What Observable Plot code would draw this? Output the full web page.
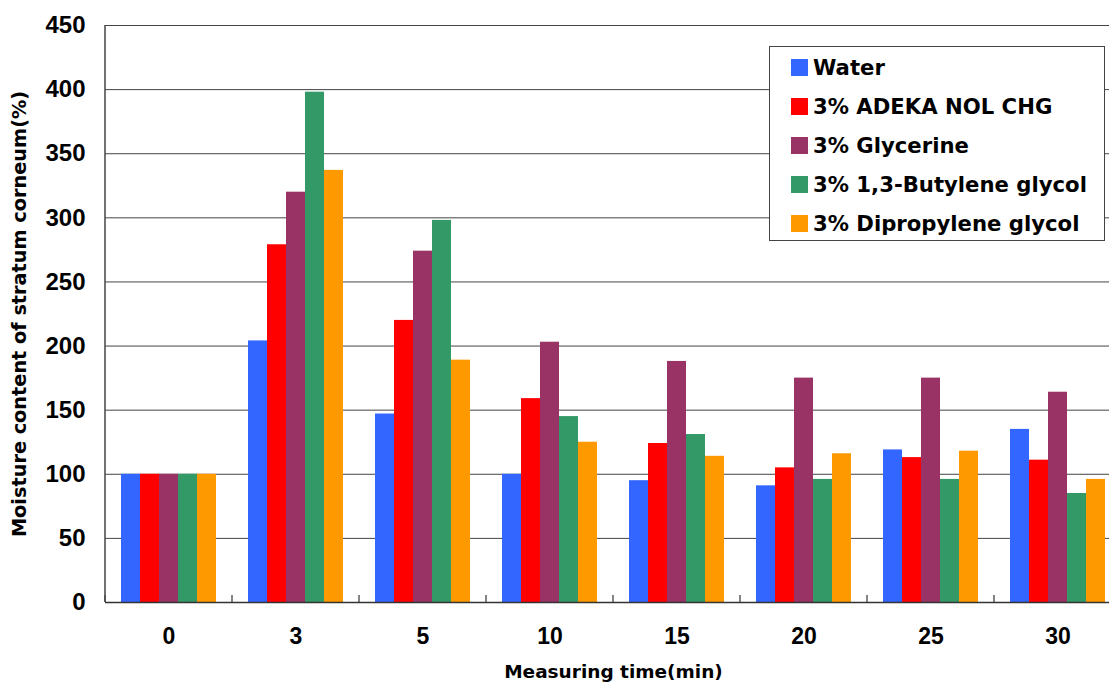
<!DOCTYPE html>
<html>
<head>
<meta charset="utf-8">
<script src="https://cdn.jsdelivr.net/npm/d3@7"></script>
<script src="https://cdn.jsdelivr.net/npm/@observablehq/plot@0.6"></script>
<style>
  body { margin: 0; background: #fff; }
  #wrap { position: relative; width: 1109px; height: 684px; overflow: hidden; background: #fff; }
  #legend { position: absolute; left: 769px; top: 46px; width: 336px; height: 195px; border: 1px solid #444;
            background: #fff; box-sizing: border-box; font-family: "DejaVu Sans"; font-weight: bold; font-size: 21.2px; color: #000; }
  #legend .item { position: absolute; left: 21px; height: 17px; display: flex; align-items: center; white-space: nowrap; }
  #legend .sw { width: 17px; height: 17px; margin-right: 5px; flex: none; }
  svg [aria-label="y-axis tick label"] text { font-family: "Liberation Sans"; font-weight: bold; font-size: 24px; }
  svg [aria-label="fx-axis tick label"] text { font-family: "Liberation Sans"; font-weight: bold; font-size: 23px; }
  svg [aria-label="y-axis label"] text { font-family: "DejaVu Sans"; font-weight: bold; font-size: 19.3px; }
  svg [aria-label="fx-axis label"] text { font-family: "DejaVu Sans"; font-weight: bold; font-size: 18.5px; }
</style>
</head>
<body>
<div id="wrap"><div id="chart"></div><div id="legend"></div></div>
<script>
const times = ["0", "3", "5", "10", "15", "20", "25", "30"];
const series = ["Water", "3% ADEKA NOL CHG", "3% Glycerine", "3% 1,3-Butylene glycol", "3% Dipropylene glycol"];
const colors = ["#3366FF", "#FF0000", "#993366", "#339966", "#FF9900"];
const water       = [100, 204, 147, 100,  95,  91, 119, 135];
const adekaNolChg = [100, 279, 220, 159, 124, 105, 113, 111];
const glycerine   = [100, 320, 274, 203, 188, 175, 175, 164];
const butylene    = [100, 398, 298, 145, 131,  96,  96,  85];
const dipropylene = [100, 337, 189, 125, 114, 116, 118,  96];
const yTicks = [0, 50, 100, 150, 200, 250, 300, 350, 400, 450];
const yLabel = "Moisture content of stratum corneum(%)";
const xLabel = "Measuring time(min)";

const seriesValues = [water, adekaNolChg, glycerine, butylene, dipropylene];
const data = [];
times.forEach((t, i) => series.forEach((s, j) => data.push({time: t, series: s, value: seriesValues[j][i]})));

const plot = Plot.plot({
  width: 1109,
  height: 684,
  marginTop: 25,
  marginBottom: 82,
  marginLeft: 105,
  marginRight: -12,
  style: {background: "#fff", color: "#000", overflow: "visible", maxWidth: "none"},
  fx: {domain: times, paddingInner: 0, paddingOuter: 0},
  x: {domain: series, paddingInner: 0, paddingOuter: 0.74, axis: null},
  y: {domain: [0, 450]},
  color: {domain: series, range: colors},
  marks: [
    Plot.gridY(yTicks.slice(1), {stroke: "#444", strokeOpacity: 1, strokeWidth: 1}),
    Plot.barY(data, {fx: "time", x: "series", y: "value", fill: "series"}),
    Plot.ruleY([0], {stroke: "#333", strokeWidth: 1.5}),
    Plot.axisY(yTicks, {anchor: "left", tickSize: 0, tickPadding: 20, fontSize: 24, fontWeight: "bold",
      label: yLabel, labelAnchor: "center", labelOffset: 93, labelArrow: "none"}),
    Plot.axisFx({anchor: "bottom", tickSize: 0, tickPadding: 25, fontSize: 23, fontWeight: "bold",
      label: xLabel, labelAnchor: "center", labelOffset: 75, labelArrow: "none"})
  ]
});
document.getElementById("chart").append(plot);

// left axis line and category boundary ticks from the plot's own scales
const fxS = plot.scale("fx"), yS = plot.scale("y");
const svg = d3.select(plot);
const y0 = yS.apply(0), yTop = yS.apply(450);
const edges = times.map(t => fxS.apply(t)).concat([fxS.apply(times[times.length - 1]) + fxS.bandwidth]);
const g = svg.append("g").attr("stroke", "#333");
g.selectAll("line.tk").data(edges).join("line").attr("class", "tk")
  .attr("x1", d => d).attr("x2", d => d).attr("y1", y0).attr("y2", y0 - 7).attr("stroke-width", 1.2);
g.append("line").attr("x1", edges[0]).attr("x2", edges[0]).attr("y1", y0).attr("y2", yTop)
  .attr("stroke", "#444").attr("stroke-width", 1.5);

// legend
const legend = d3.select("#legend");
series.forEach((s, i) => {
  const item = legend.append("div").attr("class", "item").style("top", (12 + i * 39) + "px");
  item.append("div").attr("class", "sw").style("background", colors[i]);
  item.append("span").text(s);
});
</script>
</body>
</html>
